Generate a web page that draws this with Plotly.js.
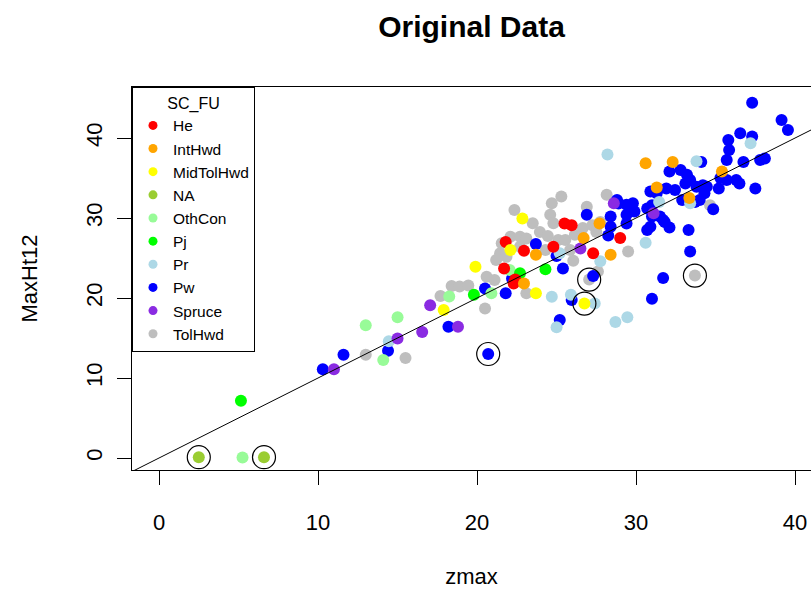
<!DOCTYPE html>
<html>
<head>
<meta charset="utf-8">
<script src="https://cdn.plot.ly/plotly-3.0.1.min.js"></script>
<style>html,body{margin:0;padding:0;background:#fff;}#chart{width:811px;height:597px;}</style>
</head>
<body>
<div id="chart"></div>
<script>
// ---- data ----
const categories = ['He','IntHwd','MidTolHwd','NA','OthCon','Pj','Pr','Pw','Spruce','TolHwd'];

const heX = [24.8, 22.95, 21.8, 21.7, 22.3, 25.5, 25.95, 27.3, 29.0, 22.4];
const heY = [26.4, 25.9, 27.0, 23.7, 21.8, 29.3, 29.1, 25.6, 27.5, 22.3];

const intHwdX = [23.7, 22.95, 26.7, 28.4, 30.6, 32.3, 35.4, 31.3, 33.35, 27.7];
const intHwdY = [25.4, 21.8, 27.5, 25.4, 36.85, 37.0, 35.8, 33.8, 32.5, 29.3];

const midTolHwdX = [22.85, 22.1, 19.9, 17.9, 23.7, 26.75];
const midTolHwdY = [29.95, 26.0, 23.9, 18.5, 20.6, 19.3];

const naX = [2.5, 6.6];
const naY = [0.1, 0.1];

const othConX = [5.25, 13.0, 14.1, 15.0, 18.25, 20.9, 22.05];
const othConY = [0.05, 16.6, 12.25, 17.6, 20.2, 20.6, 23.5];

const pjX = [5.15, 19.8, 22.7, 24.3];
const pjY = [7.15, 20.4, 23.1, 23.6];

const prX = [14.45, 24.7, 25.9, 27.4, 25.0, 27.75, 28.7, 29.45, 30.6, 28.2, 31.45, 33.4, 33.8, 37.2, 25.2];
const prY = [14.6, 20.15, 20.4, 19.3, 16.35, 24.6, 17.0, 17.6, 26.9, 37.95, 32.0, 31.85, 37.1, 39.35, 25.6];

const pwX = [10.3, 11.6, 14.4, 18.2, 20.5, 21.8, 22.2, 22.5, 23.7, 25.0, 25.4, 25.2, 25.95, 27.3, 26.9, 20.7,
  31.0, 31.7, 33.4, 33.3, 28.25, 28.4, 28.4, 28.8, 29.4, 29.8, 29.9, 29.4, 30.7, 31.0, 30.7, 31.0, 31.5, 31.8, 32.1,
  30.9, 31.3, 31.9, 32.45, 32.1, 32.8, 33.2, 33.4, 33.1, 33.8, 34.2, 34.3, 34.0, 33.7, 32.9, 34.85, 34.1, 34.45,
  35.2, 35.3, 35.7, 36.3, 36.5, 37.5, 35.7, 35.85, 35.8, 36.55, 37.3, 36.75, 37.8, 38.1, 37.3, 39.15, 39.55,
  29.4, 30.9, 31.7, 28.9];
const pwY = [11.1, 12.9, 13.4, 16.4, 21.2, 20.6, 22.45, 22.25, 26.75, 25.25, 23.7, 17.25, 19.75, 22.75, 30.4, 13.0,
  19.9, 22.5, 25.8, 28.5, 27.8, 28.9, 30.2, 32.25, 31.65, 31.85, 30.8, 30.4, 31.2, 31.6, 28.5, 30.2, 30.2, 29.5, 28.8,
  33.3, 33.1, 33.7, 33.5, 35.8, 36.0, 35.4, 34.75, 34.3, 33.9, 34.1, 33.1, 32.25, 32.0, 32.25, 31.1, 37.0, 33.9,
  33.7, 35.0, 34.75, 34.75, 34.3, 33.7, 37.25, 38.5, 39.75, 40.6, 40.2, 37.0, 37.25, 37.45, 44.4, 42.25, 41.0,
  29.3, 28.9, 29.75, 31.8];

const spruceX = [11.0, 15.0, 16.55, 17.05, 18.8, 26.5, 28.6, 31.1];
const spruceY = [11.1, 14.95, 15.75, 19.1, 16.4, 26.2, 31.85, 30.6];

const tolHwdX = [13.0, 15.5, 17.7, 18.4, 18.9, 19.45, 20.6, 21.1, 20.5, 23.1, 22.35, 24.7, 25.3, 24.6, 24.8, 23.5,
  26.9, 28.15, 21.55, 22.1, 22.7, 23.1, 21.45, 21.85, 22.7, 26.05, 27.6, 27.05, 29.5, 34.65, 33.7,
  23.95, 24.45, 25.1, 25.55, 26.15, 26.65, 27.25, 27.75, 27.5, 25.85, 24.3, 21.2];
const tolHwdY = [12.9, 12.5, 20.25, 21.5, 21.45, 21.55, 22.65, 22.25, 18.7, 20.6, 31.0, 31.85, 32.7, 30.4, 29.35, 29.35,
  31.4, 32.9, 26.85, 27.65, 27.65, 27.45, 25.6, 25.15, 26.4, 24.65, 23.3, 22.3, 25.8, 31.6, 22.8,
  28.25, 27.75, 27.25, 27.25, 27.9, 28.75, 29.1, 29.5, 28.25, 26.0, 26.0, 24.75];

// circled (flagged) observations
const flaggedX = [2.5, 6.6, 20.7, 26.75, 27.05, 33.7];
const flaggedY = [0.1, 0.1, 13.0, 19.3, 22.3, 22.8];

// reference line y = a + b x
const refIntercept = 0;
const refSlope = 1;

// ---- styling ----
const catColors = {
  He: '#FF0000', IntHwd: '#FFA500', MidTolHwd: '#FFFF00', NA: '#9ACD32', OthCon: '#98FB98',
  Pj: '#00FF00', Pr: '#ADD8E6', Pw: '#0000FF', Spruce: '#8A2BE2', TolHwd: '#BEBEBE'
};
const series = {
  He: [heX, heY], IntHwd: [intHwdX, intHwdY], MidTolHwd: [midTolHwdX, midTolHwdY], NA: [naX, naY],
  OthCon: [othConX, othConY], Pj: [pjX, pjY], Pr: [prX, prY], Pw: [pwX, pwY],
  Spruce: [spruceX, spruceY], TolHwd: [tolHwdX, tolHwdY]
};
const drawOrder = ['TolHwd','Pw','Pr','Spruce','OthCon','Pj','He','IntHwd','MidTolHwd','NA'];
const xRange = [-1.7, 41.0];
const yRange = [-1.5, 46.375];
const FONT = 'Liberation Sans, Arial, Helvetica, sans-serif';

const traces = [];
drawOrder.forEach(c => {
  traces.push({
    type: 'scatter', mode: 'markers', name: c, showlegend: false,
    x: series[c][0], y: series[c][1],
    marker: {color: catColors[c], size: 12, line: {width: 0}}
  });
});
traces.push({
  type: 'scatter', mode: 'markers', showlegend: false, name: 'flagged',
  x: flaggedX, y: flaggedY,
  marker: {symbol: 'circle-open', size: 23, color: '#000', line: {width: 1.2, color: '#000'}}
});
// legend entries (alphabetical, as in the reference)
categories.forEach(c => {
  traces.push({
    type: 'scatter', mode: 'markers', name: c, showlegend: true,
    x: [null], y: [null],
    marker: {color: catColors[c], size: 9}
  });
});

const layout = {
  width: 811, height: 597,
  margin: {l: 132, r: 0, t: 87, b: 127},
  paper_bgcolor: '#fff', plot_bgcolor: '#fff',
  font: {family: FONT, color: '#000', size: 20},
  title: {text: '<b>Original Data</b>', font: {family: FONT, size: 30, color: '#000'},
          x: 0.5, xref: 'paper', y: 1 - 26/597, yref: 'container', yanchor: 'middle'},
  showlegend: true,
  legend: {
    x: 0, xref: 'paper', xanchor: 'left', y: 1, yref: 'paper', yanchor: 'top',
    bgcolor: '#fff', bordercolor: '#000', borderwidth: 1,
    font: {family: FONT, size: 15.5, color: '#000'},
    title: {text: 'SC_FU', side: 'top center', font: {family: FONT, size: 16}},
    tracegroupgap: 0, itemwidth: 30
  },
  xaxis: {
    range: xRange, tickvals: [0, 10, 20, 30, 40], ticktext: ['0','10','20','30','40'],
    showgrid: false, zeroline: false, showline: true, linecolor: '#000', linewidth: 1, mirror: true,
    ticks: 'outside', ticklen: 14, tickcolor: '#000', tickwidth: 1, ticklabelstandoff: 19,
    tickfont: {family: FONT, size: 22},
    title: {text: 'zmax', font: {family: FONT, size: 22}, standoff: 34}
  },
  yaxis: {
    range: yRange, tickvals: [0, 10, 20, 30, 40], ticktext: ['0','10','20','30','40'],
    showgrid: false, zeroline: false, showline: true, linecolor: '#000', linewidth: 1, mirror: false,
    ticks: 'outside', ticklen: 14, tickcolor: '#000', tickwidth: 1, tickangle: -90, ticklabelstandoff: 6,
    tickfont: {family: FONT, size: 22},
    title: {text: 'MaxHt12', font: {family: FONT, size: 22}, standoff: 38}
  },
  shapes: [{
    type: 'line', xref: 'x', yref: 'y', layer: 'above',
    x0: xRange[0], y0: refIntercept + refSlope * xRange[0],
    x1: xRange[1], y1: refIntercept + refSlope * xRange[1],
    line: {color: '#000', width: 1}
  }]
};

Plotly.newPlot('chart', traces, layout, {displayModeBar: false, staticPlot: true});
</script>
</body>
</html>
